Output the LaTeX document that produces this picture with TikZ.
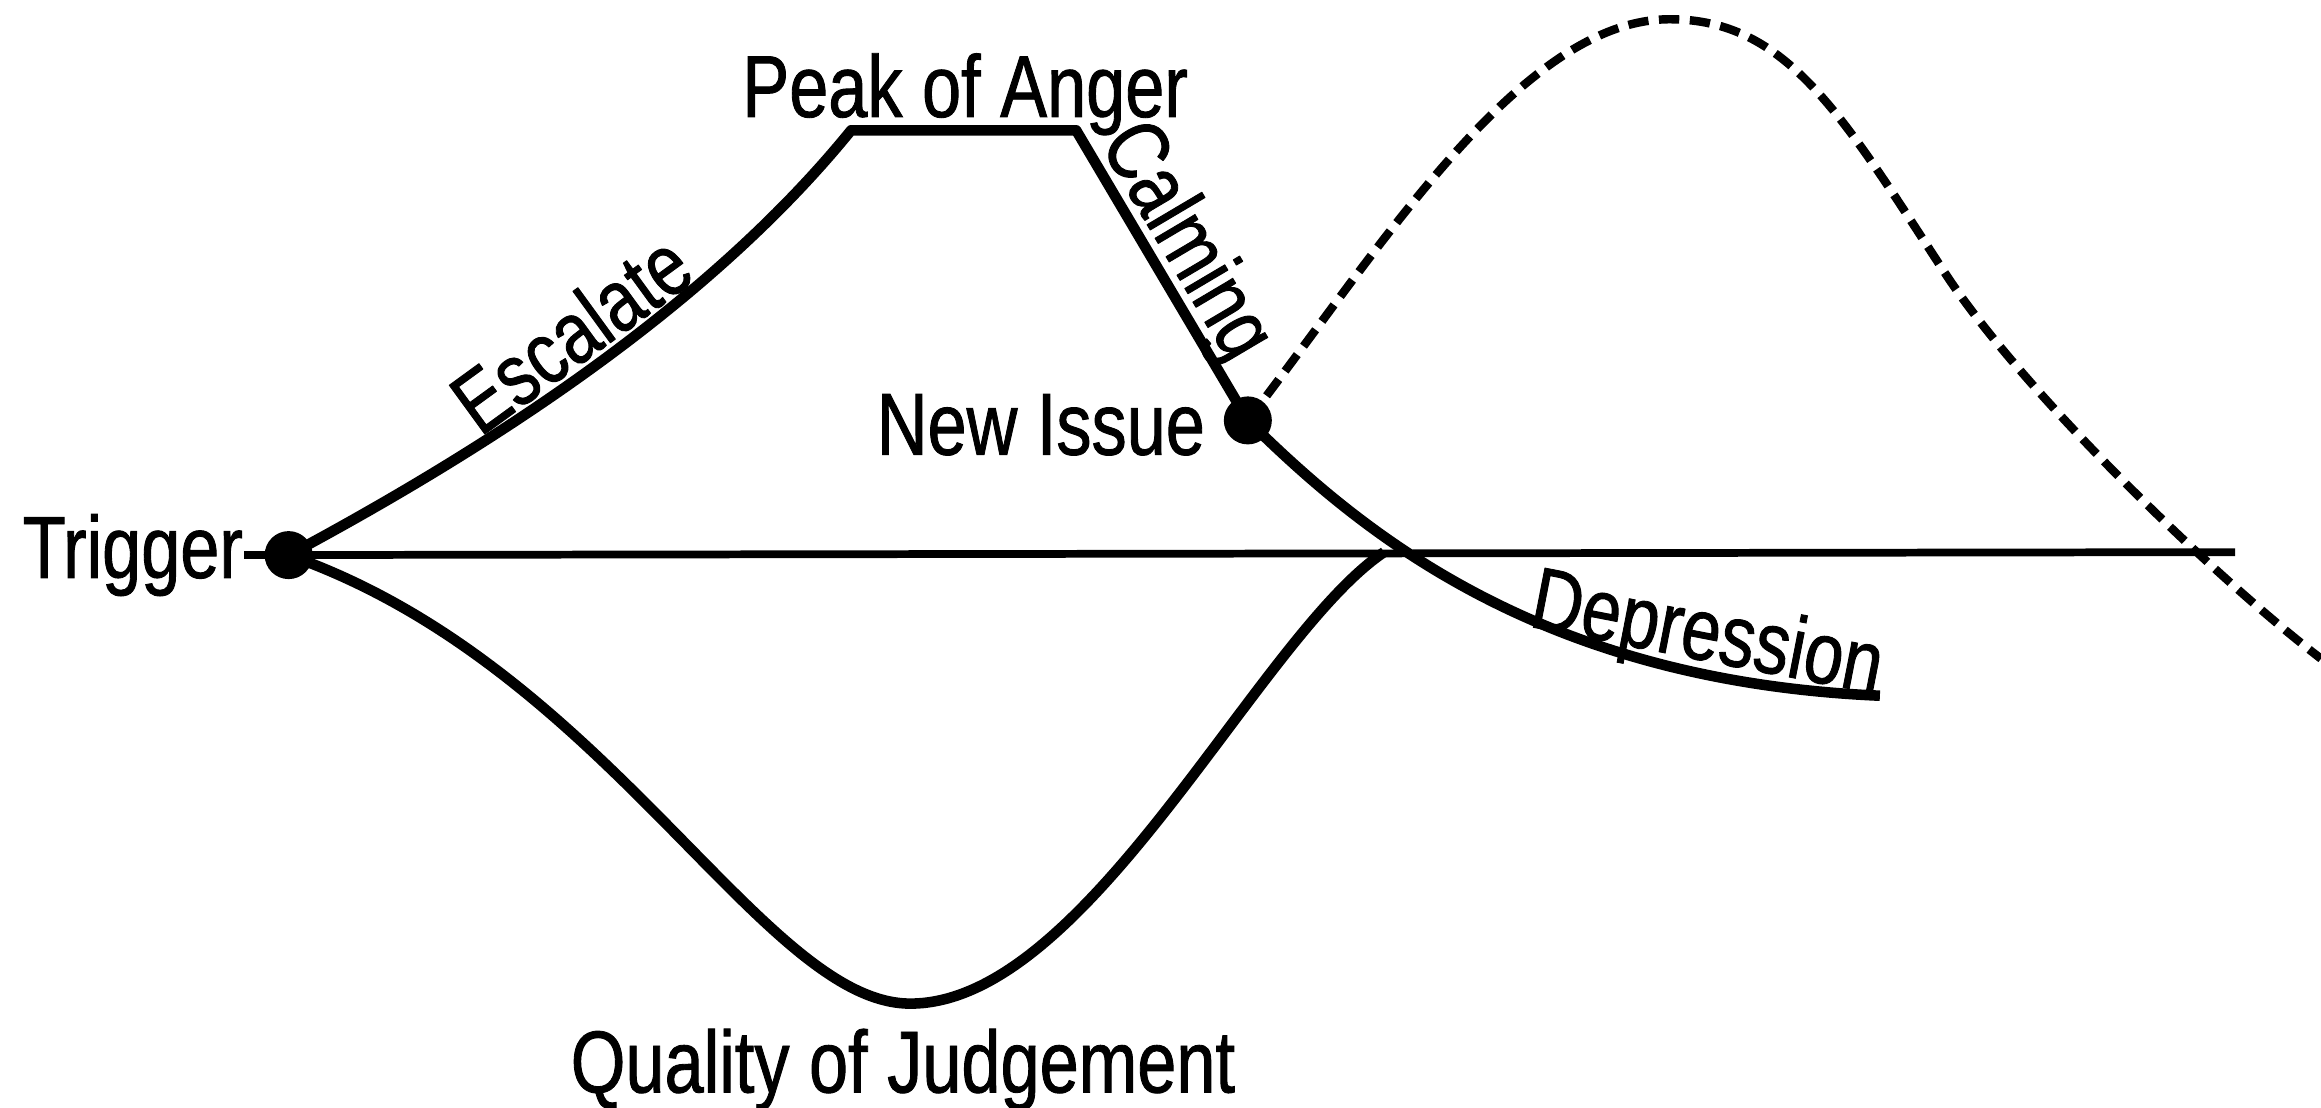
\documentclass[tikz,border=0pt]{standalone}
\usepackage{fontspec}
\setmainfont{Liberation Sans}[FakeStretch=0.8,FakeBold=1]
\usetikzlibrary{positioning}
\tikzset{
  event/.style={circle,fill,inner sep=0pt,minimum size=2.4mm},
  mood/.style={line width=1.5pt,line join=round},
  zeroline/.style={line width=1.1pt},
  forecast/.style={line width=1.2pt,dash pattern=on 2.9pt off 1.5pt},
  tag/.style={font=\fontsize{12.5}{15}\selectfont,inner sep=0pt}
}

\begin{document}
\begin{tikzpicture}[x=0.074mm,y=-0.074mm]
  \useasboundingbox (0,0) rectangle (1568,748);
  % events
  \node[event] (T) at (195,375) {};
  \node[event] (N) at (843,284) {};
  \coordinate (A) at (575,88);
  \coordinate (B) at (727,88);
  \coordinate (Q) at (615,678);
  \coordinate (X) at (935,373);
  \coordinate (E) at (1270,470);
  \coordinate (R) at (1510,373);
  \coordinate (P) at (1128,13);
  \coordinate (S) at (1315,186);
  \coordinate (F) at (1568,445);
  % texts
  \node[tag, anchor=east] (trig) at (165,375) {Trigger};
  \node[tag, anchor=east] (new) at (815,287) {New Issue};
  \node[tag, anchor=base] (peak) at (652,79) {Peak of Anger};
  \node[tag, anchor=base] (qual) at (610,738) {Quality of Judgement};
  \node[tag, anchor=base, rotate=-11] (dep) at (1150,446) {Depression};
  % zero line
  \draw[zeroline] (trig.east) -- (R);
  % anger
  \draw[mood] (T.center) .. controls (335,300) and (480,205) .. node[tag, sloped, above=0.5pt, pos=0.5] (esc) {Escalate} (A)
    -- (B) -- node[tag, sloped, above=-1.5pt, pos=0.45] (calm) {Calming} (N.center);
  \draw[mood] (N.center) .. controls (920,360) and (1040,460) .. (E);
  % judgement
  \draw[mood] (T.center) .. controls (410,450) and (515,678) .. (Q)
    .. controls (735,678) and (850,430) .. (X);
  % second episode
  \draw[forecast] (N.center) .. controls (933,167) and (1028,13) .. (P)
    .. controls (1208,13) and (1245,79) .. (S)
    .. controls (1365,262) and (1490,385) .. (F);
\end{tikzpicture}
\end{document}
